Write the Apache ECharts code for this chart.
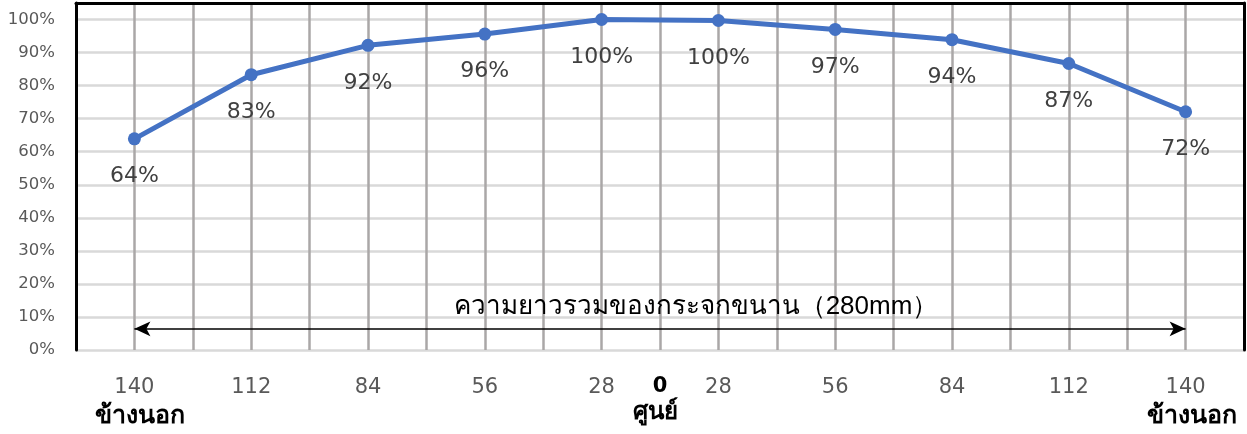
<!DOCTYPE html>
<html>
<head>
<meta charset="utf-8">
<script src="https://cdn.jsdelivr.net/npm/echarts@6/dist/echarts.min.js"></script>
<style>
  html, body { margin: 0; padding: 0; background: #fff; }
  #chart { width: 1247px; height: 434px; }
</style>
</head>
<body>
<div id="chart"></div>
<script>
// ระยะจากศูนย์ (mm) ของแต่ละจุดวัด, ซ้าย -> ขวา
var distances = ['140', '112', '84', '56', '28', '28', '56', '84', '112', '140'];
// ค่าความสว่าง (%)
var values = [63.9, 83.3, 92.2, 95.6, 100, 99.7, 97, 93.9, 86.7, 72.1];
var yTicks = [0, 10, 20, 30, 40, 50, 60, 70, 80, 90, 100];
var centerLabel = '0';
var centerName = 'ศูนย์';
var outerName = 'ข้างนอก';
var spanText = 'ความยาวรวมของกระจกขนาน（280mm）';
var arrowLevel = 6.4;

var font = '"DejaVu Sans", "Noto Sans", sans-serif';

// แต่ละจุดอยู่กึ่งกลางช่อง: ตำแหน่ง 1,3,5,...,19 บนแกน 0..20
var points = values.map(function(v, i) { return [2 * i + 1, v]; });

function xLabel(v) {
    if (v === 10) return '{zero|' + centerLabel + '}\n{zs|' + centerName + '}';
    if (v % 2 === 0) return '';
    var i = (v - 1) / 2;
    if (i === 0 || i === distances.length - 1) {
        return '{num|' + distances[i] + '}\n{out|' + outerName + '}';
    }
    return '{num|' + distances[i] + '}';
}

var chart = echarts.init(document.getElementById('chart'));
chart.setOption({
    animation: false,
    grid: { left: 76, right: 3, top: 3, bottom: 84 },
    xAxis: [{
        type: 'value', min: 0, max: 20, interval: 1,
        axisLine: { show: false },
        axisTick: { show: false },
        splitLine: { lineStyle: { color: '#aaa7a7', width: 2.5 } },
        axisLabel: {
            margin: 25,
            showMinLabel: true, showMaxLabel: true,
            formatter: xLabel,
            rich: {
                num: { fontFamily: font, fontSize: 21, color: '#595959', lineHeight: 26 },
                out: { fontSize: 25, color: '#000', lineHeight: 30, fontWeight: 'bold', padding: [0, 0, 0, 12] },
                zero: { fontFamily: font, fontSize: 21, color: '#000', fontWeight: 'bold', lineHeight: 24 },
                zs: { fontSize: 24, color: '#000', fontWeight: 'bold', lineHeight: 26, padding: [0, 10, 0, 0] }
            }
        }
    }, {
        type: 'value', position: 'top', min: 0, max: 20,
        axisLine: { show: true, onZero: false, lineStyle: { color: '#000', width: 3 } },
        axisTick: { show: false }, axisLabel: { show: false }, splitLine: { show: false }
    }],
    yAxis: [{
        type: 'value', min: 0, max: 105, interval: 10,
        axisLine: { show: true, onZero: false, lineStyle: { color: '#000', width: 3 } },
        axisTick: { show: false },
        splitLine: { lineStyle: { color: '#d9d9d9', width: 2.5 } },
        axisLabel: {
            margin: 21, showMaxLabel: false,
            fontFamily: font, fontSize: 16.5, color: '#595959',
            formatter: function(v) { return yTicks.indexOf(v) >= 0 ? v + '%' : ''; }
        }
    }, {
        type: 'value', position: 'right', min: 0, max: 105,
        axisLine: { show: true, onZero: false, lineStyle: { color: '#000', width: 3 } },
        axisTick: { show: false }, axisLabel: { show: false }, splitLine: { show: false }
    }],
    series: [{
        type: 'line',
        data: points,
        symbol: 'circle',
        symbolSize: 13,
        lineStyle: { color: '#4472c4', width: 5 },
        itemStyle: { color: '#4472c4' },
        label: {
            show: true, position: 'bottom', distance: 20,
            fontFamily: font, fontSize: 22, color: '#404040',
            formatter: function(p) { return Math.round(p.value[1]) + '%'; }
        },
        markLine: {
            silent: true,
            symbol: ['arrow', 'arrow'],
            symbolSize: [11, 16],
            lineStyle: { color: '#000', width: 1.5, type: 'solid' },
            label: {
                show: true, position: 'middle', formatter: spanText,
                fontSize: 26, color: '#000',
                offset: [36, -4]
            },
            data: [[
                { coord: [points[0][0], arrowLevel] },
                { coord: [points[points.length - 1][0], arrowLevel] }
            ]]
        }
    }]
});
</script>
</body>
</html>
